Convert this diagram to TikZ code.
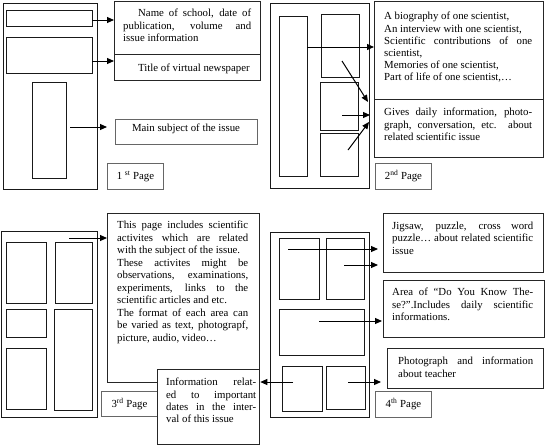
\documentclass[tikz,border=0pt]{standalone}
\usepackage{fontspec}
\setmainfont{Liberation Serif}
\usetikzlibrary{arrows.meta}
\newcommand\bx[6]{\node[#2, minimum width={#5-#3}, minimum height={#6-#4}, anchor=north west, inner sep=0pt] (#1) at (#3,#4) {};}
\begin{document}
\begin{tikzpicture}[x=1pt,y=-1pt,
 frame/.style={draw=black!90, line width=1.3pt},
 ibox/.style={draw=black!90, line width=1.3pt},
 tbox/.style={draw=black!85, line width=1.3pt, fill=white},
 gbox/.style={draw=black!60, line width=0.9pt, fill=white},
 lbl/.style={draw=black!60, line width=0.9pt, fill=white, anchor=north west, inner sep=0pt, font=\fontsize{10.8}{12.2}\selectfont},
 txt/.style={anchor=north west, inner sep=0pt, align=justify, font=\fontsize{10.8}{12.2}\selectfont},
 one/.style={inner sep=0pt, font=\fontsize{10.8}{12.2}\selectfont},
 arr/.style={-{Triangle[length=7pt,width=6pt]}, line width=1pt},
]
\useasboundingbox[fill=white] (0,0) rectangle (545,445);

% ---------- Page 1
\bx{p1}{frame}{3}{3}{97}{189}
\bx{p1a}{ibox}{6}{10}{92}{26}
\bx{p1b}{ibox}{6}{37}{92}{73}
\bx{p1c}{ibox}{32}{82}{66}{178}
\bx{n1}{tbox}{114}{1}{260}{54}
\bx{n2}{tbox}{114}{54}{260}{80}
\bx{n3}{gbox}{115}{119}{257}{144}
\node[lbl, minimum width=56pt, minimum height=26pt] (l1) at (107,163) {1 \textsuperscript{st} Page};
\node[txt, text width=128pt] (t1) at (123,9) {\hspace*{15pt}Name of school, date of\linebreak publication, volume and\linebreak issue information};
\node[one, anchor=base west] (t2) at (138,71) {Title of virtual newspaper};
\node[one, anchor=base] (t3) at (186,131) {Main subject of the issue};
\coordinate (s1) at (92,20);
\coordinate (s2) at (92,61);
\coordinate (s3) at (70,127);
\draw[arr] (s1) -- (s1 -| n1.west);
\draw[arr] (s2) -- (s2 -| n2.west);
\draw[arr, shorten >=8pt] (s3) -- (s3 -| n3.west);

% ---------- Page 2
\bx{p2}{frame}{270}{3}{369}{188}
\bx{p2a}{ibox}{279}{16}{307}{176}
\bx{p2b}{ibox}{321}{14}{359}{77}
\bx{p2c}{ibox}{320}{82}{358}{130}
\bx{p2d}{ibox}{320}{133}{358}{176}
\bx{n4}{tbox}{374}{1}{543}{99}
\bx{n5}{tbox}{374}{99}{543}{157}
\node[lbl, minimum width=56pt, minimum height=26pt] (l2) at (375,163) {2\textsuperscript{nd} Page};
\node[txt, text width=148pt] (t4) at (384,12) {A biography of one scientist,\\ An interview with one scientist,\\ Scientific contributions of one\linebreak scientist,\\ Memories of one scientist,\\ Part of life of one scientist,…};
\node[txt, text width=148pt] (t5) at (384,108) {Gives daily information, photo-\linebreak graph, conversation, etc. about\linebreak related scientific issue};
\coordinate (s4) at (307,47);
\coordinate (s5) at (342,61);
\coordinate (e5) at (368,102);
\coordinate (s6) at (342,115);
\coordinate (s7) at (348,150);
\coordinate (e7) at (369,122);
\draw[arr] (s4) -- (s4 -| n4.west);
\draw[arr] (s5) -- (e5);
\draw[arr, shorten >=4pt] (s6) -- (s6 -| n5.west);
\draw[arr] (s7) -- (e7);

% ---------- Page 3
\bx{p3}{frame}{1}{231}{97}{417}
\bx{p3a}{ibox}{6}{242}{46}{303}
\bx{p3b}{ibox}{55}{242}{92}{303}
\bx{p3c}{ibox}{6}{309}{46}{337}
\bx{p3d}{ibox}{54}{309}{92}{410}
\bx{p3e}{ibox}{6}{348}{46}{409}
\bx{n6}{tbox}{107}{213}{259}{382}
\node[lbl, minimum width=56pt, minimum height=25pt] (l3) at (101,391) {3\textsuperscript{rd} Page};
\bx{n7}{tbox}{157}{369}{259}{444}
\node[txt, text width=131pt, font=\fontsize{10.8}{12.5}\selectfont] (t6) at (117,221) {This page includes scientific\linebreak activites which are related\linebreak with the subject of the issue.\\ These activites might be\linebreak observations, examinations,\linebreak experiments, links to the\linebreak scientific articles and etc.\\ The format of each area can\linebreak be varied as text, photograpf,\linebreak picture, audio, video…};
\node[txt, text width=90pt] (t7) at (166,378) {Information relat-\linebreak ed to important\linebreak dates in the inter-\linebreak val of this issue};
\coordinate (s8) at (69,238);
\draw[arr] (s8) -- (s8 -| n6.west);

% ---------- Page 4
\bx{p4}{frame}{270}{232}{369}{417}
\bx{p4a}{ibox}{279}{238}{319}{299}
\bx{p4b}{ibox}{326}{238}{364}{299}
\bx{p4c}{ibox}{279}{309}{364}{355}
\bx{p4d}{ibox}{282}{366}{322}{411}
\bx{p4e}{ibox}{326}{366}{365}{409}
\bx{n8}{tbox}{383}{213}{543}{272}
\bx{n9}{tbox}{383}{280}{544}{337}
\bx{n10}{tbox}{387}{348}{543}{388}
\node[lbl, minimum width=56pt, minimum height=26pt] (l4) at (375,391) {4\textsuperscript{th} Page};
\node[txt, text width=141pt] (t8) at (392,222) {Jigsaw, puzzle, cross word\linebreak puzzle… about related scientific\linebreak issue};
\node[txt, text width=141pt] (t9) at (392,288) {Area of “Do You Know The-\linebreak se?”.Includes daily scientific\linebreak informations.};
\node[txt, text width=135pt] (t10) at (398,357) {Photograph and information\linebreak about teacher};
\coordinate (s9) at (288,249);
\coordinate (s10) at (344,265);
\coordinate (s11) at (319,321);
\coordinate (s12) at (348,382);
\coordinate (s13) at (293,382);
\draw[arr, shorten >=5pt] (s9) -- (s9 -| n8.west);
\draw[arr, shorten >=5pt] (s10) -- (s10 -| n8.west);
\draw[arr, shorten >=1pt] (s11) -- (s11 -| n9.west);
\draw[arr, shorten >=6pt] (s12) -- (s12 -| n10.west);
\draw[arr] (s13) -- (s13 -| n7.east);
\end{tikzpicture}
\end{document}
